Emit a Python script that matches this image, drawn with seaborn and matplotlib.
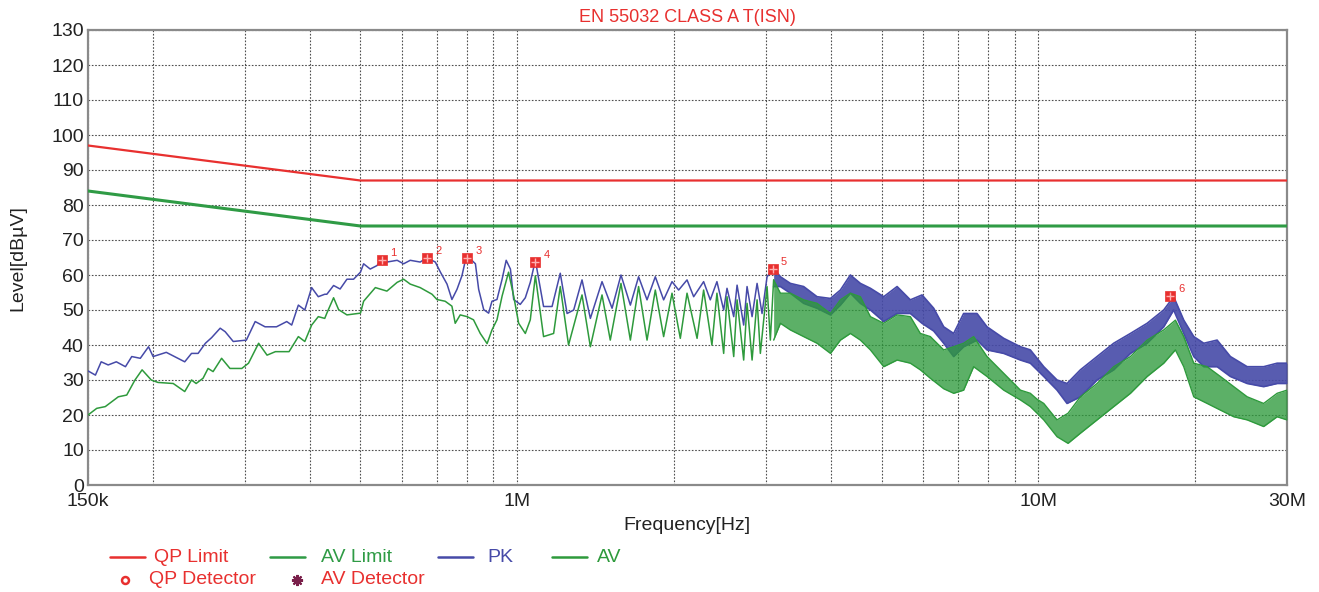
import matplotlib
matplotlib.use("Agg")
import matplotlib.pyplot as plt
import seaborn as sns
import pandas as pd
from matplotlib.lines import Line2D
from matplotlib.ticker import LogLocator, NullFormatter, FixedLocator, FixedFormatter

# ---------------- data (frequencies in MHz, levels in dBuV) ----------------
limit_freq_mhz = [0.15, 0.5, 30.0]
qp_limit_db = [97, 87, 87]
av_limit_db = [84, 74, 74]

pk_freq_mhz = [
    0.150, 0.155, 0.159, 0.164, 0.170, 0.177, 0.182, 0.189, 0.196, 0.200,
    0.212, 0.230, 0.237, 0.244, 0.252, 0.259, 0.269, 0.275, 0.285, 0.302,
    0.314, 0.328, 0.345, 0.361, 0.369, 0.380, 0.391, 0.403, 0.415, 0.427,
    0.431, 0.444, 0.457, 0.471, 0.485, 0.500, 0.507, 0.522, 0.538, 0.550,
    0.562, 0.588, 0.605, 0.623, 0.651, 0.671, 0.696, 0.712, 0.733, 0.749,
    0.766, 0.783, 0.795, 0.806, 0.831, 0.843, 0.862, 0.881, 0.894, 0.914,
    0.935, 0.952, 0.970, 0.984, 1.013, 1.036, 1.059, 1.083,
    1.123, 1.166, 1.209, 1.246, 1.283, 1.331, 1.381, 1.454, 1.520, 1.581,
    1.648, 1.709, 1.774, 1.840, 1.909, 1.981, 2.040, 2.117, 2.180, 2.278,
    2.346, 2.416, 2.489, 2.526, 2.602, 2.641, 2.719, 2.760, 2.822, 2.885,
    2.949, 3.015, 3.104,
]
pk_level_db = [
    32.6, 31.4, 35.2, 34.3, 35.2, 33.8, 36.7, 36.2, 39.5, 36.7,
    37.9, 35.2, 37.6, 37.6, 40.5, 42.1, 44.8, 43.8, 41.0, 41.4,
    46.7, 45.2, 45.2, 46.7, 45.7, 51.4, 50.0, 56.4, 53.8, 54.5,
    54.5, 57.0, 56.0, 58.8, 58.8, 60.8, 63.2, 61.7, 62.7, 64.7,
    63.7, 64.2, 63.2, 64.2, 63.7, 64.9, 63.7, 60.8, 57.4, 53.0,
    55.9, 59.8, 64.2, 65.1, 63.2, 55.9, 50.1, 49.1, 52.5, 53.0,
    58.8, 64.2, 61.7, 53.0, 51.6, 53.5, 57.9, 64.2,
    51.0, 51.0, 60.5, 49.0, 50.0, 58.6, 47.6, 58.1, 50.5, 60.0,
    51.4, 59.5, 52.9, 59.5, 52.9, 58.1, 55.7, 58.6, 53.8, 58.1,
    52.9, 58.1, 50.0, 56.2, 48.1, 57.1, 45.7, 56.7, 48.1, 57.6,
    49.0, 59.5, 61.9,
]

av_freq_mhz = [
    0.150, 0.1559, 0.1619, 0.1715, 0.1780, 0.1846, 0.1905, 0.1984, 0.2044, 0.2186,
    0.230, 0.237, 0.2419, 0.2494, 0.2550, 0.2607, 0.2707, 0.2809, 0.2960, 0.3049,
    0.3188, 0.3309, 0.3434, 0.3647, 0.380, 0.391, 0.403, 0.415, 0.427,
    0.431, 0.444, 0.454, 0.471, 0.500, 0.507, 0.534, 0.562, 0.588, 0.605,
    0.623, 0.651, 0.686, 0.701, 0.727, 0.749, 0.760, 0.777, 0.801, 0.824,
    0.849, 0.875, 0.894, 0.914, 0.935, 0.962, 0.984, 1.006, 1.036, 1.059, 1.083,
    1.123, 1.174, 1.209, 1.254, 1.331, 1.381, 1.454, 1.508, 1.581, 1.648,
    1.709, 1.774, 1.840, 1.909, 1.981, 2.055, 2.117, 2.213, 2.278, 2.363,
    2.416, 2.489, 2.526, 2.602, 2.641, 2.719, 2.760, 2.822, 2.885, 2.927,
    3.015, 3.059, 3.104,
]
av_level_db = [
    20.0, 21.9, 22.4, 25.2, 25.7, 30.0, 32.9, 30.0, 29.3, 29.0,
    26.7, 30.0, 29.0, 30.5, 33.3, 32.4, 36.2, 33.3, 33.3, 34.8,
    40.5, 37.1, 38.1, 38.1, 42.4, 41.0, 45.7, 48.1, 47.6,
    49.1, 53.5, 50.1, 48.6, 49.1, 52.5, 56.4, 55.4, 57.9, 58.8,
    57.4, 56.4, 54.5, 53.0, 52.5, 51.1, 46.2, 48.6, 48.1, 47.2,
    43.3, 40.4, 44.3, 47.2, 54.0, 60.8, 54.0, 46.2, 43.3, 47.2, 59.8,
    42.4, 43.3, 56.7, 40.0, 54.3, 39.5, 54.3, 41.4, 57.6, 41.4,
    56.7, 41.4, 55.7, 42.4, 54.8, 41.9, 54.8, 41.9, 55.7, 40.0,
    54.8, 37.6, 53.8, 36.7, 52.9, 35.7, 51.9, 35.7, 52.9, 37.6,
    56.7, 41.4, 58.6,
]

# dense part of the sweep (above ~3 MHz): upper / lower envelope of the trace
pk_band_freq_mhz = [
    3.104, 3.198, 3.342, 3.544, 3.760, 3.990, 4.169, 4.357, 4.554, 4.760,
    5.049, 5.356, 5.679, 5.980, 6.296, 6.581, 6.877, 7.187, 7.625, 7.969,
    8.580, 9.237, 9.650, 10.24, 10.86, 11.35, 12.04, 12.96, 13.95, 15.02,
    16.17, 17.40, 18.18, 19.01, 19.87, 20.77, 22.03, 23.36, 25.16, 27.06,
    28.72, 30.00,
]
pk_band_upper_db = [
    61.9, 59.5, 57.6, 56.7, 53.8, 53.3, 55.7, 60.0, 57.6, 56.2,
    53.8, 56.7, 52.9, 54.3, 50.5, 45.2, 43.3, 49.0, 49.0, 45.2,
    41.9, 39.5, 38.6, 33.8, 30.0, 29.0, 32.9, 36.7, 40.5, 43.3,
    46.2, 50.0, 53.8, 47.1, 42.4, 40.5, 41.4, 36.7, 33.8, 33.8,
    34.8, 34.8,
]
pk_band_lower_db = [
    56.7, 56.7, 54.8, 51.9, 50.5, 48.6, 51.4, 54.8, 51.9, 50.0,
    46.7, 49.0, 49.0, 46.2, 44.0, 40.5, 36.7, 39.5, 41.4, 38.6,
    37.6, 35.7, 34.8, 31.0, 27.1, 23.3, 25.2, 30.0, 32.9, 37.6,
    40.5, 45.2, 50.0, 43.3, 36.7, 33.8, 33.8, 31.0, 29.0, 28.1,
    29.0, 29.0,
]

av_band_freq_mhz = [
    3.104, 3.198, 3.342, 3.544, 3.760, 3.990, 4.169, 4.357, 4.554, 4.760,
    5.049, 5.356, 5.679, 5.935, 6.203, 6.581, 6.877, 7.187, 7.512, 7.969,
    8.580, 9.237, 9.650, 9.943, 10.24, 10.86, 11.40, 12.04, 12.96, 13.95,
    15.02, 16.17, 17.40, 18.32, 19.01, 19.87, 21.08, 22.35, 23.71, 25.16,
    27.06, 28.72, 30.00,
]
av_band_upper_db = [
    58.6, 54.8, 54.8, 52.9, 51.9, 49.0, 52.9, 54.8, 53.8, 48.1,
    46.2, 48.6, 48.1, 43.3, 42.4, 38.6, 39.5, 40.5, 42.4, 36.7,
    31.9, 27.1, 26.2, 24.5, 23.3, 18.6, 20.5, 25.2, 29.0, 33.8,
    36.7, 41.4, 44.3, 47.1, 42.4, 34.8, 33.8, 31.0, 28.1, 25.2,
    23.3, 26.2, 27.1,
]
av_band_lower_db = [
    41.4, 46.2, 44.3, 42.4, 40.5, 37.6, 41.4, 43.3, 41.4, 38.6,
    33.8, 35.7, 34.8, 32.9, 30.5, 27.5, 26.2, 27.1, 33.8, 31.0,
    27.1, 24.3, 22.4, 20.5, 18.6, 13.8, 11.9, 14.8, 18.6, 22.4,
    26.2, 31.0, 34.8, 38.6, 33.8, 25.2, 23.3, 21.4, 19.5, 18.6,
    16.7, 19.5, 18.6,
]

marker_freq_mhz = [0.549, 0.671, 0.801, 1.082, 3.09, 17.9]
marker_level_db = [64.3, 64.9, 64.9, 63.7, 61.7, 54.0]
marker_labels = ["1", "2", "3", "4", "5", "6"]

x_tick_freq_mhz = [0.15, 1, 10, 30]
x_tick_labels = ["150k", "1M", "10M", "30M"]
y_ticks_db = list(range(0, 131, 10))

title_text = "EN 55032 CLASS A T(ISN)"
x_label = "Frequency[Hz]"
y_label = "Level[dBµV]"

# ---------------- styling ----------------
RED = "#e8302f"
LIMIT_GREEN = "#2f9b45"
PK_BLUE = "#464aa8"
AV_GREEN = "#2e9a3c"
DET_PURPLE = "#7a1f4a"

sns.set_theme(style="white")
plt.rcParams["font.family"] = ["Liberation Sans", "DejaVu Sans"]

W, H = 1319, 592
fig = plt.figure(figsize=(W / 100, H / 100), dpi=100)
ax = fig.add_axes([88 / W, 1 - 485 / H, (1287 - 88) / W, (485 - 30) / H])

limits = pd.DataFrame({"f": limit_freq_mhz, "qp": qp_limit_db, "av": av_limit_db})
pk = pd.DataFrame({"f": pk_freq_mhz, "level": pk_level_db})
av = pd.DataFrame({"f": av_freq_mhz, "level": av_level_db})
pkb = pd.DataFrame({"f": pk_band_freq_mhz, "up": pk_band_upper_db, "lo": pk_band_lower_db})
avb = pd.DataFrame({"f": av_band_freq_mhz, "up": av_band_upper_db, "lo": av_band_lower_db})

# PK trace
sns.lineplot(data=pk, x="f", y="level", color=PK_BLUE, lw=1.1, estimator=None,
             sort=False, ax=ax, zorder=3)
ax.fill_between(pkb["f"], pkb["lo"], pkb["up"], color=PK_BLUE, alpha=0.9, lw=0, zorder=3)
sns.lineplot(data=pkb, x="f", y="up", color=PK_BLUE, lw=1.2, estimator=None, ax=ax, zorder=3)
sns.lineplot(data=pkb, x="f", y="lo", color=PK_BLUE, lw=1.2, estimator=None, ax=ax, zorder=3)

# AV trace
sns.lineplot(data=av, x="f", y="level", color=AV_GREEN, lw=1.1, estimator=None,
             sort=False, ax=ax, zorder=4)
ax.fill_between(avb["f"], avb["lo"], avb["up"], color=AV_GREEN, alpha=0.78, lw=0, zorder=4)
sns.lineplot(data=avb, x="f", y="up", color=AV_GREEN, lw=1.0, estimator=None, ax=ax, zorder=4)
sns.lineplot(data=avb, x="f", y="lo", color=AV_GREEN, lw=1.0, estimator=None, ax=ax, zorder=4)

# limit lines
sns.lineplot(data=limits, x="f", y="qp", color=RED, lw=1.6, estimator=None, ax=ax, zorder=5)
sns.lineplot(data=limits, x="f", y="av", color=LIMIT_GREEN, lw=2.2, estimator=None, ax=ax, zorder=5)

# final-measurement markers
mk = pd.DataFrame({"f": marker_freq_mhz, "level": marker_level_db})
sns.scatterplot(data=mk, x="f", y="level", marker="s", s=60, color=RED, edgecolor=RED,
                linewidth=0.5, ax=ax, zorder=6)
sns.scatterplot(data=mk, x="f", y="level", marker="+", s=30, color="#ffb0b0",
                linewidth=1.0, ax=ax, zorder=7)
for f, l, t in zip(marker_freq_mhz, marker_level_db, marker_labels):
    ax.annotate(t, (f, l), xytext=(6, 3), textcoords="offset points",
                color=RED, fontsize=8, zorder=8)

# axes
ax.set_xscale("log")
ax.set_xlim(0.15, 30)
ax.set_ylim(0, 130)
ax.xaxis.set_major_locator(FixedLocator(x_tick_freq_mhz))
ax.xaxis.set_major_formatter(FixedFormatter(x_tick_labels))
ax.xaxis.set_minor_locator(LogLocator(base=10, subs=range(2, 10), numticks=20))
ax.xaxis.set_minor_formatter(NullFormatter())
ax.set_yticks(y_ticks_db)
ax.tick_params(axis="both", which="both", length=0, labelsize=14, colors="#222222")
ax.tick_params(axis="y", pad=3)
ax.tick_params(axis="x", pad=6)
ax.grid(which="both", axis="both", color="#222222", linestyle=(0, (1.5, 1.5)),
        linewidth=0.8, alpha=0.8, zorder=0)
ax.set_axisbelow(True)
for s in ax.spines.values():
    s.set_visible(True)
    s.set_color("#8a8a8a")
    s.set_linewidth(1.6)

ax.set_xlabel("")
ax.set_ylabel("")
fig.text(687 / W, 1 - 525 / H, x_label, ha="center", va="center", fontsize=14, color="#222222")
fig.text(18 / W, 1 - 258 / H, y_label, ha="center", va="center", rotation=90,
         fontsize=14, color="#222222")
fig.text(687 / W, 1 - 18 / H, title_text, ha="center", va="center", fontsize=13, color=RED)

# legend drawn manually below the plot
def leg_line(x0, x1, y, color):
    fig.add_artist(Line2D([x0 / W, x1 / W], [1 - y / H, 1 - y / H], color=color, lw=1.8,
                          transform=fig.transFigure))

def leg_text(x, y, s, color):
    fig.text(x / W, 1 - y / H, s, ha="left", va="center", fontsize=14, color=color)

leg_line(110, 145, 557, RED)
leg_text(154, 557, "QP Limit", RED)
leg_line(270, 305, 557, LIMIT_GREEN)
leg_text(321, 557, "AV Limit", LIMIT_GREEN)
leg_line(438, 473, 557, PK_BLUE)
leg_text(487, 557, "PK", PK_BLUE)
leg_line(552, 587, 557, AV_GREEN)
leg_text(597, 557, "AV", AV_GREEN)
fig.add_artist(Line2D([125 / W], [1 - 580 / H], marker="o", markersize=5, mfc="none",
                      mec=RED, mew=1.8, transform=fig.transFigure))
leg_text(149, 580, "QP Detector", RED)
fig.add_artist(Line2D([297 / W], [1 - 580 / H], marker=(8, 2, 0), markersize=8,
                      color=DET_PURPLE, mec=DET_PURPLE, mew=1.5, transform=fig.transFigure))
leg_text(321, 580, "AV Detector", RED)

fig.savefig("out.png", dpi=100, facecolor="white")
